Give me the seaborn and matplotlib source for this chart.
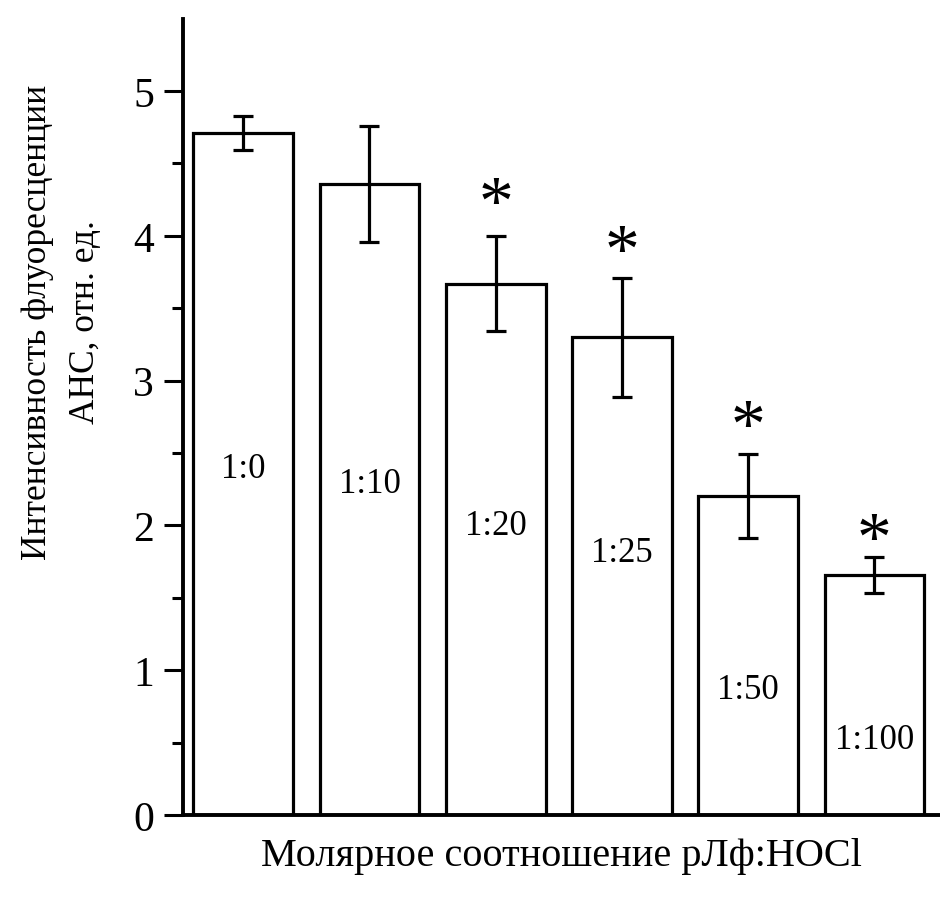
import numpy as np
import pandas as pd
import matplotlib
matplotlib.use("Agg")
import matplotlib.pyplot as plt
import seaborn as sns

ratios = ["1:0", "1:10", "1:20", "1:25", "1:50", "1:100"]
intensity = [4.71, 4.36, 3.67, 3.30, 2.20, 1.66]
sd = [0.12, 0.40, 0.33, 0.41, 0.29, 0.125]
# asterisk (p < 0.05) positions, None = no mark
star_y = [None, None, 4.29, 3.96, 2.75, 1.97]
label_y = [2.39, 2.29, 2.00, 1.81, 0.87, 0.52]

df = pd.DataFrame({"ratio": ratios, "value": intensity, "sd": sd})

sns.set_theme(style="ticks")
plt.rcParams["font.family"] = ["Liberation Serif", "DejaVu Serif"]
plt.rcParams["text.color"] = "black"
plt.rcParams["axes.labelcolor"] = "black"
plt.rcParams["axes.edgecolor"] = "black"
plt.rcParams["ytick.color"] = "black"

fig = plt.figure(figsize=(9.4, 9.03), dpi=100)
ax = fig.add_axes([0.195, 0.0963, 0.805, 0.882])

sns.barplot(data=df, x="ratio", y="value", color="white", edgecolor="black",
            linewidth=2.3, width=0.79, errorbar=None, ax=ax)
ax.errorbar(np.arange(len(ratios)), df["value"], yerr=df["sd"], fmt="none",
            ecolor="black", elinewidth=2.3, capsize=7.5, capthick=2.3)

for i, r in enumerate(ratios):
    ax.text(i, label_y[i], r, ha="center", va="center", fontsize=25)
    if star_y[i] is not None:
        # glyph sits high in its box, nudge down so its centre lands on star_y
        ax.annotate("*", (i, star_y[i]), xytext=(0, -9), textcoords="offset points",
                    ha="center", va="center", fontsize=50)

ax.set_xlim(-0.475, 5.52)
ax.set_ylim(0, 5.5)
ax.set_yticks([0, 1, 2, 3, 4, 5])
ax.set_yticks(np.arange(0.5, 5.5, 1.0), minor=True)
ax.tick_params(axis="y", which="major", direction="out", length=14, width=2.2,
               labelsize=30, pad=7)
ax.tick_params(axis="y", which="minor", direction="out", length=8, width=2.2)
ax.tick_params(axis="x", bottom=False, labelbottom=False)
ax.spines["top"].set_visible(False)
ax.spines["right"].set_visible(False)
ax.spines["left"].set_linewidth(2.8)
ax.spines["bottom"].set_linewidth(2.8)

ax.set_xlabel("Молярное соотношение рЛф:HOCl", fontsize=29, labelpad=16)
ax.set_ylabel("Интенсивность флуоресценции\nАНС, отн. ед.", fontsize=25.5,
              linespacing=1.6, va="center")
ax.yaxis.set_label_coords(-0.161, 0.62)

fig.savefig("out.png", dpi=100)
